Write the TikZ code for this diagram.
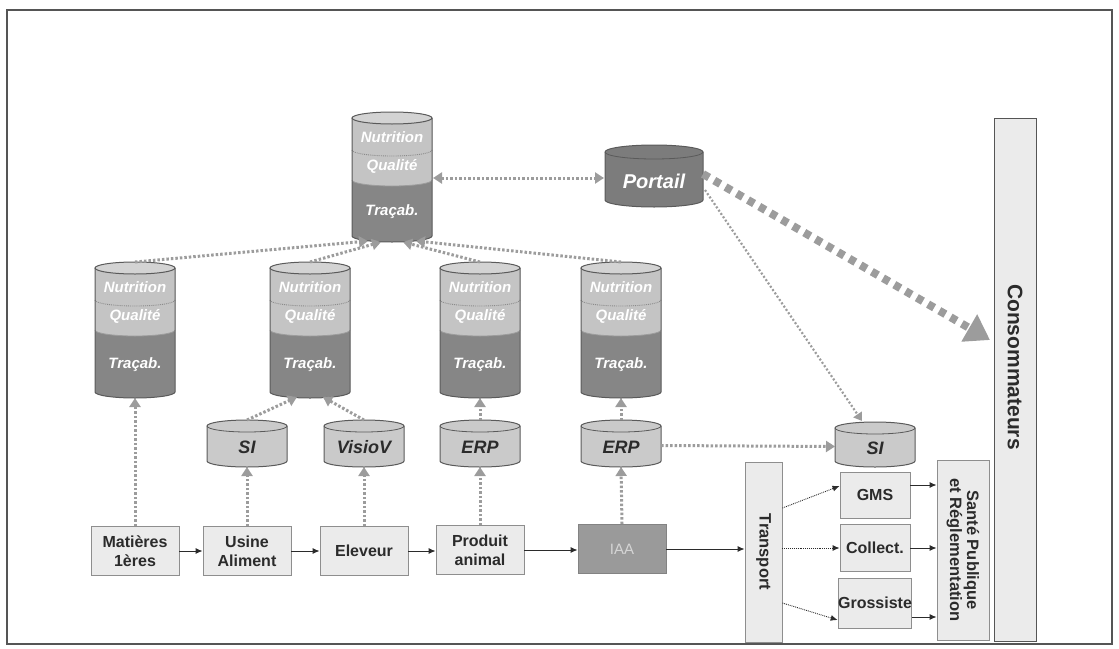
\documentclass[tikz,border=0pt]{standalone}
\usepackage{fontspec}
\setmainfont{Liberation Sans}
\usetikzlibrary{arrows.meta}
\definecolor{band}{HTML}{C4C4C4}
\definecolor{trac}{HTML}{868686}
\definecolor{dbline}{HTML}{5A5A5A}
\definecolor{smalldb}{HTML}{CACACA}
\definecolor{boxfill}{HTML}{EBEBEB}
\definecolor{boxline}{HTML}{8E8E8E}
\definecolor{dotc}{HTML}{9C9C9C}
\definecolor{txt}{HTML}{2B2B2B}
\definecolor{portc}{HTML}{7C7C7C}
\definecolor{iaac}{HTML}{9A9A9A}
\definecolor{framec}{HTML}{555555}
\newcommand\stackdb[4]{%
  \fill[trac] (#2-40,#3) -- (#2-40,#4) arc[start angle=180,end angle=360,x radius=40pt,y radius=6pt] -- (#2+40,#3) -- cycle;
  \fill[band] (#2-40,#3) -- (#2-40,#3+62) arc[start angle=180,end angle=360,x radius=40pt,y radius=6pt] -- (#2+40,#3) -- cycle;
  \draw[dbline!70,line width=0.9pt,densely dotted] (#2-40,#3+32) arc[start angle=180,end angle=360,x radius=40pt,y radius=6pt];
  \draw[dbline!60,line width=0.8pt] (#2-40,#3+62) arc[start angle=180,end angle=360,x radius=40pt,y radius=6pt];
  \draw[dbline,line width=1pt] (#2-40,#3) -- (#2-40,#4) arc[start angle=180,end angle=360,x radius=40pt,y radius=6pt] -- (#2+40,#3);
  \draw[dbline,fill=band!75!white,line width=1pt] (#2,#3) ellipse[x radius=40pt,y radius=6pt];
  \node[dbtext] (#1-n1) at (#2,#3+19) {Nutrition};
  \node[dbtext] (#1-n2) at (#2,#3+48) {Qualité};
  \node[dbtext] (#1-n3) at (#2,{(#3+62+#4)/2+4}) {Traçab.};
  \coordinate (#1-top) at (#2,#3-6);
  \coordinate (#1-bot) at (#2,#4+6);
}
\newcommand\smalldb[5]{%
  \draw[dbline,fill=smalldb,line width=1pt] (#2-40,#3) -- (#2-40,#4) arc[start angle=180,end angle=360,x radius=40pt,y radius=6pt] -- (#2+40,#3) arc[start angle=0,end angle=180,x radius=40pt,y radius=6pt] -- cycle;
  \draw[dbline,line width=0.8pt] (#2-40,#3) arc[start angle=180,end angle=360,x radius=40pt,y radius=6pt];
  \node[sdbtext] (#1) at (#2,{(#3+#4)/2+4}) {#5};
  \coordinate (#1-top) at (#2,#3-6);
  \coordinate (#1-bot) at (#2,#4+6);
  \coordinate (#1-left) at (#2-40,{(#3+#4)/2+2});
  \coordinate (#1-right) at (#2+40,{(#3+#4)/2+2});
}
\begin{document}
\begin{tikzpicture}[x=1pt,y=-1pt,
  dbtext/.style={font=\bfseries\itshape\fontsize{15}{15}\selectfont, text=white, inner sep=0},
  sdbtext/.style={font=\bfseries\itshape\fontsize{18}{18}\selectfont, text=txt, inner sep=0},
  box/.style={draw=boxline, fill=boxfill, line width=0.9pt, minimum width=88pt, minimum height=49pt, inner sep=0, font=\bfseries\fontsize{16}{19}\selectfont, text=txt, align=center},
  vtext/.style={rotate=-90, font=\bfseries\fontsize{16.5}{17}\selectfont, text=txt, align=center, inner sep=0},
  dotarrow/.style={draw=dotc, line width=3pt, dash pattern=on 2.5pt off 2pt, -{Triangle[width=11pt,length=9pt]}},
  dotthin/.style={draw=dotc, line width=2.2pt, dash pattern=on 2pt off 2pt, -{Triangle[width=10pt,length=8pt]}},
  bigarrow/.style={draw=dotc, line width=8pt, dash pattern=on 7pt off 6pt, -{Triangle[width=30pt,length=24pt]}},
  solidarrow/.style={draw=txt, line width=0.9pt, -{Latex[length=7pt,width=6pt]}},
  thinarrow/.style={draw=txt, line width=0.9pt, densely dotted, -{Latex[length=7pt,width=6pt]}}]
\useasboundingbox (0,0) rectangle (1119,648);
\draw[framec,line width=1.2pt] (7,10) rectangle (1112,644);

% stacked databases
\stackdb{top}{392}{118}{236}
\stackdb{dba}{135}{268}{392}
\stackdb{dbb}{310}{268}{392}
\stackdb{dbc}{480}{268}{392}
\stackdb{dbd}{621}{268}{392}

% Portail
\draw[dbline,fill=portc,line width=1pt] (605,152) -- (605,200) arc[start angle=180,end angle=360,x radius=49pt,y radius=7pt] -- (703,152) arc[start angle=0,end angle=180,x radius=49pt,y radius=7pt] -- cycle;
\draw[dbline,line width=0.8pt] (605,152) arc[start angle=180,end angle=360,x radius=49pt,y radius=7pt];
\node[font=\bfseries\itshape\fontsize{20}{20}\selectfont, text=white, inner sep=0] (portail) at (654,181) {Portail};

% small databases
\smalldb{si}{247}{426}{461}{SI}
\smalldb{visio}{364}{426}{461}{VisioV}
\smalldb{erpa}{480}{426}{461}{ERP}
\smalldb{erpb}{621}{426}{461}{ERP}
\smalldb{sir}{875}{428}{461}{SI}

% boxes
\node[box] (mat) at (135,551) {Matières\\1ères};
\node[box] (usine) at (247,551) {Usine\\Aliment};
\node[box] (elev) at (364,551) {Eleveur};
\node[box] (prod) at (480,550) {Produit\\animal};
\node[box, fill=iaac, draw=iaac!85!black, text=boxfill!80!gray, font=\fontsize{15}{18}\selectfont] (iaa) at (622,549) {IAA};
\node[box, minimum width=37pt, minimum height=180pt] (transport) at (763.5,552) {};
\node[vtext] (transport-t) at (transport.center) {Transport};
\node[box, minimum width=70pt, minimum height=46pt] (gms) at (875,495) {GMS};
\node[box, minimum width=70pt, minimum height=47pt] (collect) at (875,548) {Collect.};
\node[box, minimum width=70pt, minimum height=50pt] (gross) at (875,603) {Grossiste};
\node[box, minimum width=52pt, minimum height=180pt] (sante) at (963,550) {};
\node[vtext] (sante-t) at (sante.center) {Santé Publique\\et Réglementation};
\node[box, draw=framec, minimum width=42pt, minimum height=523pt] (conso) at (1015,380) {};
\node[vtext, font=\bfseries\fontsize{21}{21}\selectfont] (conso-t) at (1015,367) {Consommateurs};

% coordinates for connector ends
\coordinate (t1) at (368,241);
\coordinate (t2) at (381,242);
\coordinate (t3) at (403,242);
\coordinate (t4) at (416,241);
\coordinate (topr) at (433,178);
\coordinate (portl) at (604,178);
\coordinate (portse) at (705,190);
\coordinate (portne) at (703,174);
\coordinate (sirtop) at (862,421);
\coordinate (consin) at (990,340);
\coordinate (dbb1) at (297,397);
\coordinate (dbb2) at (323,397);

% solid flow
\draw[solidarrow] (mat.east) -- (usine.west);
\draw[solidarrow] (usine.east) -- (elev.west);
\draw[solidarrow] (elev.east) -- (elev.east -| prod.west);
\draw[solidarrow] (prod.east) -- (prod.east -| iaa.west);
\draw[solidarrow] (iaa.east) -- (iaa.east -| transport.west);
\draw[thinarrow] ([yshift=44pt]transport.east) -- ([yshift=9pt]gms.west);
\draw[thinarrow] (collect.west -| transport.east) -- (collect.west);
\draw[thinarrow] ([yshift=-51pt]transport.east) -- ([yshift=-17pt]gross.west);
\draw[solidarrow] ([yshift=10pt]gms.east) -- ([yshift=10pt]gms.east -| sante.west);
\draw[solidarrow] (collect.east) -- (collect.east -| sante.west);
\draw[solidarrow] ([yshift=-14pt]gross.east) -- ([yshift=-14pt]gross.east -| sante.west);

% dotted information flow
\draw[dotarrow] (mat.north) -- (dba-bot);
\draw[dotarrow] (usine.north) -- (si-bot);
\draw[dotarrow] (elev.north) -- (visio-bot);
\draw[dotarrow] (prod.north) -- (erpa-bot);
\draw[dotarrow] (iaa.north) -- (erpb-bot);
\draw[dotarrow] (si-top) -- (dbb1);
\draw[dotarrow] (visio-top) -- (dbb2);
\draw[dotarrow] (erpa-top) -- (dbc-bot);
\draw[dotarrow] (erpb-top) -- (dbd-bot);
\draw[dotarrow] (erpb-right) -- (sir-left);
\draw[dotarrow] (dba-top) -- (t1);
\draw[dotarrow] (dbb-top) -- (t2);
\draw[dotarrow] (dbc-top) -- (t3);
\draw[dotarrow] (dbd-top) -- (t4);
\draw[dotarrow, {Triangle[width=11pt,length=9pt]}-{Triangle[width=11pt,length=9pt]}] (topr) -- (portl);
\draw[dotthin] (portse) -- (sirtop);
\draw[bigarrow] (portne) -- (consin);
\end{tikzpicture}
\end{document}
